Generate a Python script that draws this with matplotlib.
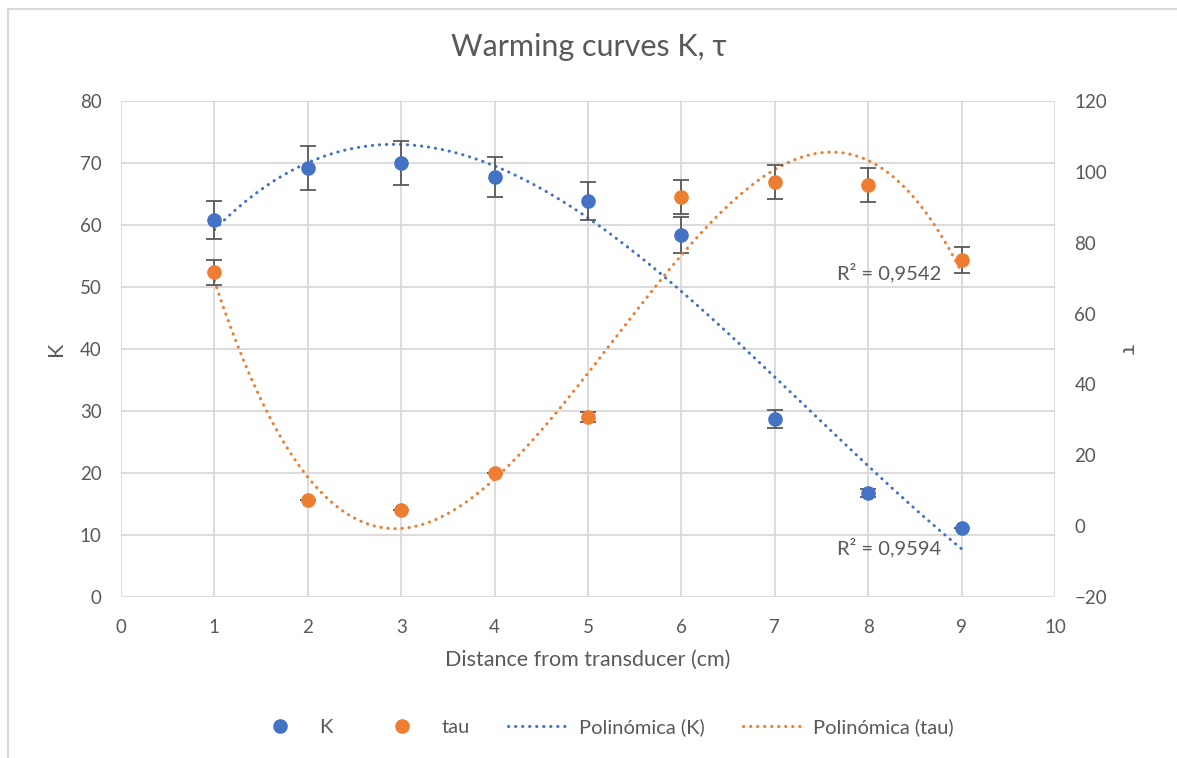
import numpy as np
import matplotlib.pyplot as plt
from matplotlib.patches import Rectangle
from matplotlib.lines import Line2D

plt.rcParams['font.family'] = ['Lato', 'DejaVu Sans']

# distance from transducer (cm)
dist = [1, 2, 3, 4, 5, 6, 7, 8, 9]
# K with error
k_vals = [60.8, 69.2, 70.0, 67.7, 63.9, 58.4, 28.7, 16.8, 11.1]
k_err = [3.1, 3.5, 3.5, 3.2, 3.1, 2.9, 1.5, 0.7, 0.0]
# tau with error
tau_vals = [71.7, 7.4, 4.6, 15.0, 30.8, 92.9, 97.1, 96.3, 75.1]
tau_err = [3.5, 0.0, 0.0, 0.0, 1.3, 4.7, 4.7, 4.8, 3.7]

x_ticks = list(range(0, 11))
k_ticks = list(range(0, 81, 10))
tau_ticks = list(range(-20, 121, 20))

trend_deg = 3
r2_k_text = 'R² = 0,9594'
r2_tau_text = 'R² = 0,9542'

BLUE = '#4472C4'
ORANGE = '#ED7D31'
TXT = '#595959'
GRID = '#d9d9d9'
EBAR = '#595959'


def poly_trend(x, y, deg):
    coef = np.polyfit(x, y, deg)
    xs = np.linspace(min(x), max(x), 300)
    return xs, np.polyval(coef, xs)


fig = plt.figure(figsize=(11.77, 7.58), dpi=100)
fig.patches.append(Rectangle((8 / 1177, -0.05), 1.2, 1 - 9 / 758 + 0.05,
                             transform=fig.transFigure, fill=False,
                             edgecolor=GRID, linewidth=1.5))

ax = fig.add_axes([121 / 1177, 1 - 597 / 758, (1055 - 121) / 1177, (597 - 101) / 758])
ax2 = ax.twinx()

ax.set_xlim(0, 10)
ax.set_ylim(0, 80)
ax2.set_ylim(-20, 120)
ax.set_xticks(x_ticks)
ax.set_yticks(k_ticks)
ax2.set_yticks(tau_ticks)
ax.grid(True, color=GRID, linewidth=1.3)
ax.set_axisbelow(True)
for a in (ax, ax2):
    for s in a.spines.values():
        s.set_visible(False)
    a.tick_params(length=0, labelsize=13.5, labelcolor=TXT)
ax.tick_params(axis='x', pad=16)
ax.tick_params(axis='y', pad=14)
ax2.tick_params(axis='y', pad=14)

dots = (0, (0.1, 2.2))

xs, ys = poly_trend(dist, k_vals, trend_deg)
ax.plot(xs, ys, color=BLUE, lw=2.2, linestyle=dots, dash_capstyle='round', zorder=2)
xs, ys = poly_trend(dist, tau_vals, trend_deg)
ax2.plot(xs, ys, color=ORANGE, lw=2.2, linestyle=dots, dash_capstyle='round', zorder=2)

ax.errorbar(dist, k_vals, yerr=k_err, fmt='o', color=BLUE, ms=9.5,
            ecolor=EBAR, elinewidth=1.3, capsize=5.5, capthick=1.3, zorder=3)
ax2.errorbar(dist, tau_vals, yerr=tau_err, fmt='o', color=ORANGE, ms=9.5,
             ecolor=EBAR, elinewidth=1.3, capsize=5.5, capthick=1.3, zorder=3)

ax.text(7.67, 52.4, r2_tau_text, fontsize=14.5, color=TXT, va='center', ha='left')
ax.text(7.67, 7.9, r2_k_text, fontsize=14.5, color=TXT, va='center', ha='left')

ax.set_xlabel('Distance from transducer (cm)', fontsize=15.5, color=TXT, labelpad=10)
ax.set_ylabel('K', fontsize=15.5, color=TXT, labelpad=10)
ax2.set_ylabel('τ', fontsize=15.5, color=TXT, rotation=270, labelpad=22)

fig.text(0.5, 1 - 47 / 758, 'Warming curves K, τ', fontsize=22, color=TXT,
         ha='center', va='center')

handles = [
    Line2D([], [], marker='o', color=BLUE, linestyle='none', ms=9.5),
    Line2D([], [], marker='o', color=ORANGE, linestyle='none', ms=9.5),
    Line2D([], [], color=BLUE, lw=2.2, linestyle=dots, dash_capstyle='round'),
    Line2D([], [], color=ORANGE, lw=2.2, linestyle=dots, dash_capstyle='round'),
]
labels = ['K', 'tau', 'Polinómica (K)', 'Polinómica (tau)']
leg = fig.legend(handles, labels, loc='center', bbox_to_anchor=(0.511, 1 - 727 / 758),
                 ncol=4, frameon=False, fontsize=14.5, handlelength=3.1,
                 columnspacing=1.9, handletextpad=0.4)
for t in leg.get_texts():
    t.set_color(TXT)

fig.savefig('out.png', dpi=100)
